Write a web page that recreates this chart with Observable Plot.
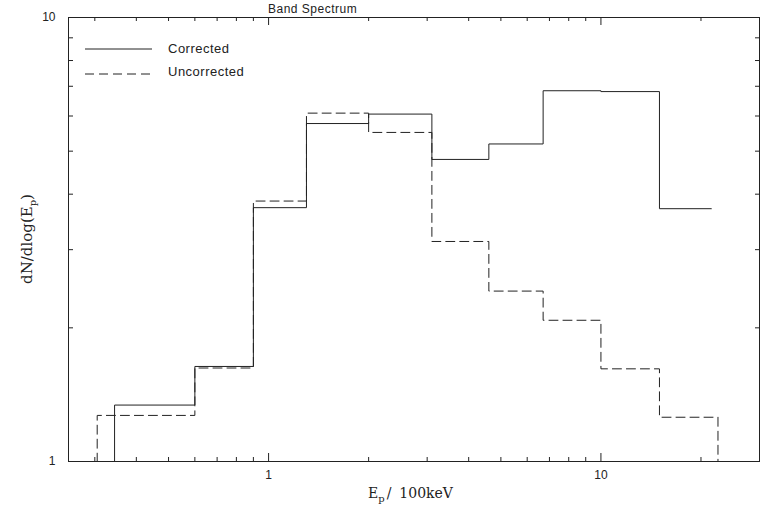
<!DOCTYPE html>
<html><head><meta charset="utf-8">
<script src="https://cdn.jsdelivr.net/npm/d3@7"></script>
<script src="https://cdn.jsdelivr.net/npm/@observablehq/plot@0.6"></script>
<style>body{margin:0;background:#fff} svg{display:block}</style>
</head><body><div id="chart"></div>
<script>
const title = "Band Spectrum";
const seriesNames = ["Corrected", "Uncorrected"];
// bin edges (E_p / 100 keV) and step levels dN/dlog(E_p)
const correctedE = [0.25, 0.344, 0.6, 0.9, 1.3, 2, 3.1, 4.6, 6.7, 10, 15, 21.5];
const correctedN = [1, 1.34, 1.637, 3.73, 5.77, 6.06, 4.79, 5.19, 6.84, 6.81, 3.71, 3.71];
const uncorrectedE = [0.25, 0.305, 0.6, 0.9, 1.3, 2, 3.1, 4.6, 6.7, 10, 15, 22.5, 30];
const uncorrectedN = [1, 1.27, 1.624, 3.86, 6.09, 5.51, 3.13, 2.42, 2.08, 1.617, 1.258, 1, 1];
const xTickLabels = [1, 10];
const yTickLabels = [1, 10];
const xMinorTicks = [0.3, 0.4, 0.5, 0.6, 0.7, 0.8, 0.9, 2, 3, 4, 5, 6, 7, 8, 9, 20];
const yMinorTicks = [2, 3, 4, 5, 6, 7, 8, 9];

const W = 764, H = 510, mL = 68, mR = 5, mT = 17, mB = 49;
const pw = W - mL - mR, ph = H - mT - mB;
const ink = "#222";

const corrected = correctedE.map((e, i) => ({e, n: correctedN[i]}));
const uncorrected = uncorrectedE.map((e, i) => ({e, n: uncorrectedN[i]}));

const plot = Plot.plot({
  width: W, height: H,
  marginLeft: mL, marginRight: mR, marginTop: mT, marginBottom: mB,
  style: {fontFamily: "'Liberation Sans', Arial, sans-serif", fontSize: "12px", color: ink, background: "#fff"},
  x: {type: "log", domain: [0.25, 30]},
  y: {type: "log", domain: [1, 10]},
  marks: [
    Plot.axisX({ticks: xTickLabels, tickSize: 0, tickPadding: 9, tickFormat: d => String(d), label: null, fontSize: 12}),
    Plot.axisY({ticks: yTickLabels, tickSize: 0, tickPadding: 13, tickFormat: d => String(d), label: null, fontSize: 12}),
    Plot.tickX(xMinorTicks, {x: d => d, insetTop: ph - 4, stroke: ink}),
    Plot.tickX(xMinorTicks, {x: d => d, insetBottom: ph - 4, stroke: ink}),
    Plot.tickX(xTickLabels, {x: d => d, insetTop: ph - 8, stroke: ink}),
    Plot.tickX(xTickLabels, {x: d => d, insetBottom: ph - 8, stroke: ink}),
    Plot.tickY(yMinorTicks, {y: d => d, insetRight: pw - 5, stroke: ink}),
    Plot.tickY(yMinorTicks, {y: d => d, insetLeft: pw - 4, stroke: ink}),
    Plot.line(uncorrected, {x: "e", y: "n", curve: "step-after", stroke: ink, strokeWidth: 1, strokeDasharray: "9,5"}),
    Plot.line(corrected, {x: "e", y: "n", curve: "step-after", stroke: ink, strokeWidth: 1}),
    Plot.frame({stroke: ink})
  ]
});
document.getElementById("chart").appendChild(plot);

const svg = d3.select(plot);
// title
svg.append("text").attr("x", 268).attr("y", 13).attr("text-anchor", "start")
  .attr("font-family", "'Liberation Sans', Arial, sans-serif").attr("font-size", 12)
  .attr("letter-spacing", 0.5).attr("fill", ink).text(title);

// legend
const leg = svg.append("g");
[0, 1].forEach(i => {
  const y = 49 + i * 25;
  leg.append("line").attr("x1", 85).attr("x2", 152).attr("y1", y).attr("y2", y)
    .attr("stroke", ink).attr("stroke-width", 1)
    .attr("stroke-dasharray", i ? "9,5" : null);
  leg.append("text").attr("x", 168).attr("y", i ? 75.5 : 53).attr("text-anchor", "start")
    .attr("font-family", "'Liberation Sans', Arial, sans-serif").attr("font-size", 13)
    .attr("letter-spacing", 0.5).attr("fill", ink).text(seriesNames[i]);
});

// x label
const xl = svg.append("text").attr("x", 368).attr("y", 498).attr("text-anchor", "start")
  .attr("font-family", "'DejaVu Serif', serif").attr("font-size", 14).attr("fill", ink);
xl.append("tspan").text("E");
xl.append("tspan").attr("font-size", 10).attr("dy", 4).text("p");
xl.append("tspan").attr("dy", -4).attr("dx", 2).text("/");
xl.append("tspan").attr("dx", 8).text("100keV");

// y label
const yl = svg.append("text").attr("transform", "translate(32,239) rotate(-90)")
  .attr("text-anchor", "middle")
  .attr("font-family", "'DejaVu Serif', serif").attr("font-size", 15).attr("fill", ink);
yl.append("tspan").text("dN/dlog(E");
yl.append("tspan").attr("font-size", 10).attr("dy", 4).text("p");
yl.append("tspan").attr("dy", -4).text(")");
</script>
</body></html>
